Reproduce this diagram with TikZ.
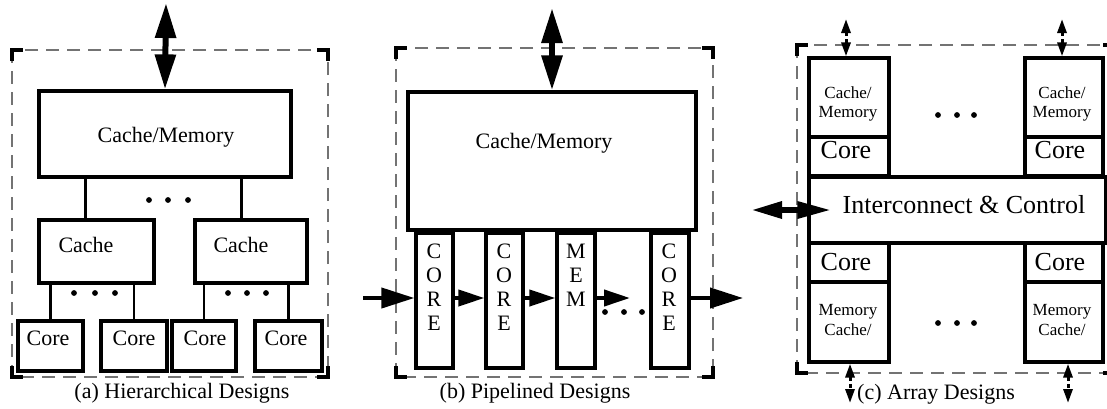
\documentclass[tikz,border=0pt]{standalone}
\usepackage{fontspec}
\setmainfont{Liberation Serif}
\usetikzlibrary{arrows.meta,calc}

\tikzset{
  blk/.style={draw, line width=3.2pt, inner sep=0pt},
  conn/.style={line width=2.6pt},
  frm/.style={draw=black!55, line width=1.1pt, dash pattern=on 13pt off 8pt},
  brk/.style={line width=3.6pt, line cap=butt, line join=miter},
  txt/.style={inner sep=0pt, anchor=base},
  fmid/.style={font=\fontsize{22}{24}\selectfont},
  fsmall/.style={font=\fontsize{17}{19}\selectfont},
  fbig/.style={font=\fontsize{26}{28}\selectfont},
  dot/.style={fill=black},
  bigdbl/.style={line width=6pt,
    {Triangle[length=35pt,width=20pt]}-{Triangle[length=35pt,width=20pt]}},
  pipe/.style={line width=4pt, -{Triangle[length=26pt,width=16pt]}},
  pipeend/.style={line width=4pt, -{Triangle[length=33pt,width=20pt]}},
  sidedbl/.style={line width=6pt,
    {Triangle[length=31pt,width=16pt]}-{Triangle[length=34pt,width=16pt]}},
  smalldbl/.style={line width=3pt, dash pattern=on 4pt off 3pt,
    {Triangle[length=14pt,width=9pt]}-{Triangle[length=14pt,width=9pt]}}
}

% rectangle node given by its two corners
\newcommand\mkbox[5]{%
  \node[blk, minimum width={(#4)-(#2)}, minimum height={(#5)-(#3)}]
    (#1) at ({((#2)+(#4))/2},{((#3)+(#5))/2}) {};}

% dashed enclosure with thick corner brackets
\newcommand\mkframe[4]{%
  \draw[frm] (#1,#2) rectangle (#3,#4);
  \draw[brk] (#1,#2+11) -- (#1,#2) -- (#1+11,#2);
  \draw[brk] (#3-11,#2) -- (#3,#2) -- (#3,#2+11);
  \draw[brk] (#1,#4-11) -- (#1,#4) -- (#1+11,#4);
  \draw[brk] (#3-11,#4) -- (#3,#4) -- (#3,#4-11);}

\begin{document}
\begin{tikzpicture}[x=1pt,y=-1pt]
\clip (0,0) rectangle (1107,408);

% ---------------- (a) hierarchical ----------------
\mkframe{12}{50}{328}{377}
\mkbox{acm}{39}{91}{291}{177}
\mkbox{ac1}{39}{220}{154}{283}
\mkbox{ac2}{195}{220}{307}{283}
\mkbox{ak1}{18}{321}{83}{371}
\mkbox{ak2}{101}{321}{167}{371}
\mkbox{ak3}{172}{321}{236}{371}
\mkbox{ak4}{255}{321}{322}{371}

\node[txt,fmid] (acmt) at (166,142) {Cache/Memory};
\node[txt,fmid] (ac1t) at (86,252) {Cache};
\node[txt,fmid] (ac2t) at (241,252) {Cache};
\node[txt,fmid] (ak1t) at (48,345) {Core};
\node[txt,fmid] (ak2t) at (134,345) {Core};
\node[txt,fmid] (ak3t) at (205,345) {Core};
\node[txt,fmid] (ak4t) at (286,345) {Core};

\draw[conn] ([xshift=48pt]ac1.north west) -- ([xshift=48pt]ac1.north west |- acm.south);
\draw[conn] ([xshift=48pt]ac2.north west) -- ([xshift=48pt]ac2.north west |- acm.south);
\foreach \k/\c in {ak1/ac1,ak2/ac1,ak3/ac2,ak4/ac2}
  \draw[conn] (\k.north) -- (\k.north |- \c.south);

\foreach \x in {149,168,188} \fill[dot] (\x,200) circle (2.9);
\foreach \x in {74,95,115,228,247,266} \fill[dot] (\x,293) circle (2.9);

\coordinate (atop) at (166,3);
\draw[bigdbl] (atop) -- (acm.north);

\node[txt,fmid] (acap) at (182,398) {(a) Hierarchical Designs};

% ---------------- (b) pipelined ----------------
\mkframe{396}{48}{713}{377}
\mkbox{bcm}{408}{92}{696}{230}
\mkbox{bs1}{416}{233}{453}{368}
\mkbox{bs2}{486}{233}{523}{368}
\mkbox{bs3}{557}{233}{595}{368}
\mkbox{bs4}{651}{233}{689}{368}

\node[txt,fmid] (bcmt) at (544,148) {Cache/Memory};
\foreach \ch [count=\i] in {C,O,R,E}
  \node[txt,fmid] (bs1l\i) at (434,{258+24.3*(\i-1)}) {\ch};
\foreach \ch [count=\i] in {C,O,R,E}
  \node[txt,fmid] (bs2l\i) at (504,{258+24.3*(\i-1)}) {\ch};
\foreach \ch [count=\i] in {M,E,M}
  \node[txt,fmid] (bs3l\i) at (576,{258+24.3*(\i-1)}) {\ch};
\foreach \ch [count=\i] in {C,O,R,E}
  \node[txt,fmid] (bs4l\i) at (669,{258+24.3*(\i-1)}) {\ch};

\coordinate (btop) at (552,8);
\draw[bigdbl] (btop) -- (bcm.north);

\coordinate (bin) at (363,298);
\coordinate (bgap) at (630,298);
\coordinate (bout) at (743,298);
\draw[pipeend] (bin) -- (bin -| bs1.west);
\draw[pipe] (bs1.east |- bin) -- (bs2.west |- bin);
\draw[pipe] (bs2.east |- bin) -- (bs3.west |- bin);
\draw[pipe] (bs3.east |- bin) -- (bgap);
\draw[pipeend] (bs4.east |- bin) -- (bout);
\foreach \x in {605,624,642} \fill[dot] (\x,312) circle (2.9);

\node[txt,fmid] (bcap) at (535,398) {(b) Pipelined Designs};

% ---------------- (c) array ----------------
\mkframe{797}{45}{1114}{373}
\mkbox{ctl}{809}{58}{889}{137}
\mkbox{ctlc}{809}{137}{889}{176}
\mkbox{ctr}{1025}{58}{1103}{137}
\mkbox{ctrc}{1025}{137}{1103}{176}
\mkbox{cic}{809}{177}{1106}{243}
\mkbox{cblc}{809}{243}{889}{282}
\mkbox{cbl}{809}{282}{889}{362}
\mkbox{cbrc}{1025}{243}{1103}{282}
\mkbox{cbr}{1025}{282}{1103}{362}

\node[txt,fsmall] (ctlt1) at (848,98) {Cache/};
\node[txt,fsmall] (ctlt2) at (848,117) {Memory};
\node[txt,fsmall] (ctrt1) at (1062,98) {Cache/};
\node[txt,fsmall] (ctrt2) at (1062,117) {Memory};
\node[txt,fbig] (ctlct) at (846,158) {Core};
\node[txt,fbig] (ctrct) at (1060,158) {Core};
\node[txt,fbig] (cict) at (964,213) {Interconnect \& Control};
\node[txt,fbig] (cblct) at (846,270) {Core};
\node[txt,fbig] (cbrct) at (1060,270) {Core};
\node[txt,fsmall] (cblt1) at (848,315) {Memory};
\node[txt,fsmall] (cblt2) at (848,335) {Cache/};
\node[txt,fsmall] (cbrt1) at (1062,315) {Memory};
\node[txt,fsmall] (cbrt2) at (1062,335) {Cache/};

\foreach \x in {938,957,974} {
  \fill[dot] (\x,115) circle (2.9);
  \fill[dot] (\x,323) circle (2.9);
}

\coordinate (ctla) at (846,19);
\coordinate (ctra) at (1062,19);
\coordinate (cbla) at (850,403);
\coordinate (cbra) at (1068,403);
\draw[smalldbl] (ctla) -- (ctla |- ctl.north);
\draw[smalldbl] (ctra) -- (ctra |- ctr.north);
\draw[smalldbl] (cbla |- cbl.south) -- (cbla);
\draw[smalldbl] (cbra |- cbr.south) -- (cbra);

\coordinate (cside) at (751,210);
\draw[sidedbl] (cside) -- ([xshift=24pt]cic.west |- cside);

\node[txt,fmid] (ccap) at (936,399) {(c) Array Designs};
\end{tikzpicture}
\end{document}
